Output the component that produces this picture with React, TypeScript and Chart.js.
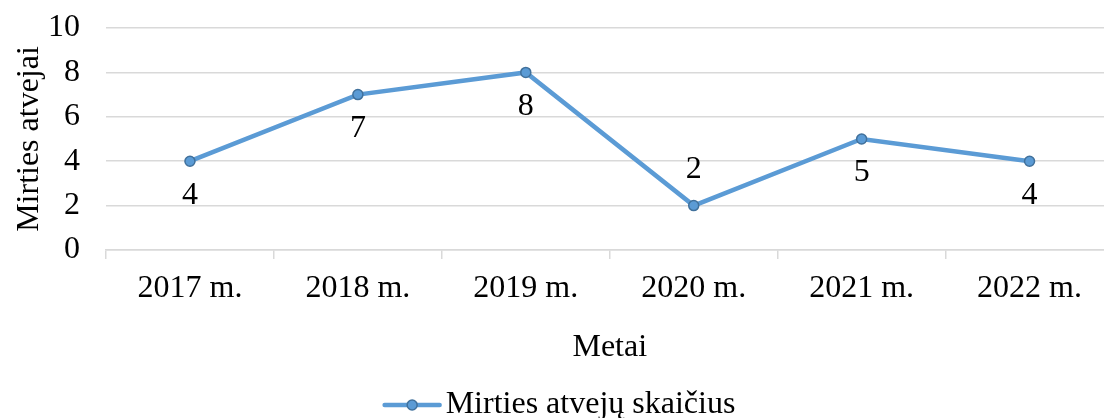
import React, { useEffect, useRef } from "react";
import { Chart, registerables } from "chart.js";

Chart.register(...registerables);

const categories = ["2017 m.", "2018 m.", "2019 m.", "2020 m.", "2021 m.", "2022 m."];
const deaths = [4, 7, 8, 2, 5, 4];
const yTicks = [0, 2, 4, 6, 8, 10];
const seriesLabel = "Mirties atvejų skaičius";
const yTitle = "Mirties atvejai";
const xTitle = "Metai";

// style: where each data label sits relative to its point
const labelSide = ["below", "below", "below", "above", "below", "below"];

const FONT = '"Liberation Serif", "Times New Roman", serif';
const FS = 32;
const LINE = "#5B9BD5";
const POINT_BORDER = "#41719C";
const GRID = "#D9D9D9";

const dataLabelPlugin = {
  id: "dataLabels",
  afterDatasetsDraw(chart: any) {
    const ctx = chart.ctx;
    const meta = chart.getDatasetMeta(0);
    ctx.save();
    ctx.font = `${FS}px ${FONT}`;
    ctx.fillStyle = "#000";
    ctx.textAlign = "center";
    ctx.textBaseline = "middle";
    meta.data.forEach((pt: any, i: number) => {
      const off = labelSide[i] === "above" ? -36 : 34;
      ctx.fillText(String(chart.data.datasets[0].data[i]), pt.x, pt.y + off);
    });
    ctx.restore();
  },
};

const legendPlugin = {
  id: "customLegend",
  afterDraw(chart: any) {
    const ctx = chart.ctx;
    ctx.save();
    ctx.font = `${FS}px ${FONT}`;
    const text = chart.data.datasets[0].label;
    const tw = ctx.measureText(text).width;
    const markW = 55;
    const gap = 6;
    const total = markW + gap + tw;
    const x0 = (chart.width - total) / 2;
    const y = 405;
    ctx.strokeStyle = LINE;
    ctx.lineWidth = 4.5;
    ctx.lineCap = "round";
    ctx.beginPath();
    ctx.moveTo(x0, y);
    ctx.lineTo(x0 + markW, y);
    ctx.stroke();
    ctx.beginPath();
    ctx.arc(x0 + markW / 2, y, 5, 0, Math.PI * 2);
    ctx.fillStyle = LINE;
    ctx.fill();
    ctx.lineWidth = 1.5;
    ctx.strokeStyle = POINT_BORDER;
    ctx.stroke();
    ctx.fillStyle = "#000";
    ctx.textAlign = "left";
    ctx.textBaseline = "middle";
    ctx.fillText(text, x0 + markW + gap, y);
    ctx.restore();
  },
};

export default function App() {
  const ref = useRef<HTMLCanvasElement>(null);
  useEffect(() => {
    if (!ref.current) return;
    const chart = new Chart(ref.current, {
      type: "line",
      data: {
        labels: categories,
        datasets: [
          {
            label: seriesLabel,
            data: deaths,
            borderColor: LINE,
            backgroundColor: LINE,
            borderWidth: 4.5,
            pointRadius: 5,
            pointBackgroundColor: LINE,
            pointBorderColor: POINT_BORDER,
            pointBorderWidth: 1.5,
            tension: 0,
          },
        ],
      },
      options: {
        animation: false,
        responsive: false,
        maintainAspectRatio: false,
        layout: { padding: { top: 28, right: 6, bottom: 48, left: 0 } },
        plugins: {
          legend: { display: false },
          tooltip: { enabled: false },
        },
        scales: {
          x: {
            type: "category",
            offset: true,
            grid: {
              display: true,
              drawOnChartArea: false,
              drawTicks: true,
              tickLength: 9,
              offset: true,
              color: GRID,
              lineWidth: 1.5,
            },
            border: { display: true, color: GRID, width: 1.5 },
            ticks: {
              color: "#000",
              font: { family: FONT, size: FS },
              padding: 10,
              maxRotation: 0,
              autoSkip: false,
            },
            title: {
              display: true,
              text: xTitle,
              color: "#000",
              font: { family: FONT, size: FS },
              padding: { top: 0, bottom: 3 },
            },
            afterFit(scale: any) {
              scale.height = 120;
            },
          },
          y: {
            min: 0,
            max: 10,
            afterBuildTicks(scale: any) {
              scale.ticks = yTicks.map((v) => ({ value: v }));
            },
            grid: {
              color: GRID,
              lineWidth: 1.5,
              drawTicks: true,
              tickLength: 20,
              tickColor: "rgba(0,0,0,0)",
            },
            border: { display: false },
            ticks: {
              color: "#000",
              font: { family: FONT, size: FS },
              padding: 6,
              autoSkip: false,
            },
            title: {
              display: true,
              text: yTitle,
              color: "#000",
              font: { family: FONT, size: FS },
              padding: { top: 10, bottom: 0 },
            },
            afterFit(scale: any) {
              scale.width = 106;
            },
          },
        },
      },
      plugins: [dataLabelPlugin, legendPlugin],
    });
    return () => chart.destroy();
  }, []);

  return (
    <div
      style={{
        position: "fixed",
        left: 0,
        top: 0,
        width: 1104,
        height: 418,
        overflow: "hidden",
        background: "#fff",
      }}
    >
      <canvas ref={ref} width={1120} height={418} style={{ display: "block" }} />
    </div>
  );
}
